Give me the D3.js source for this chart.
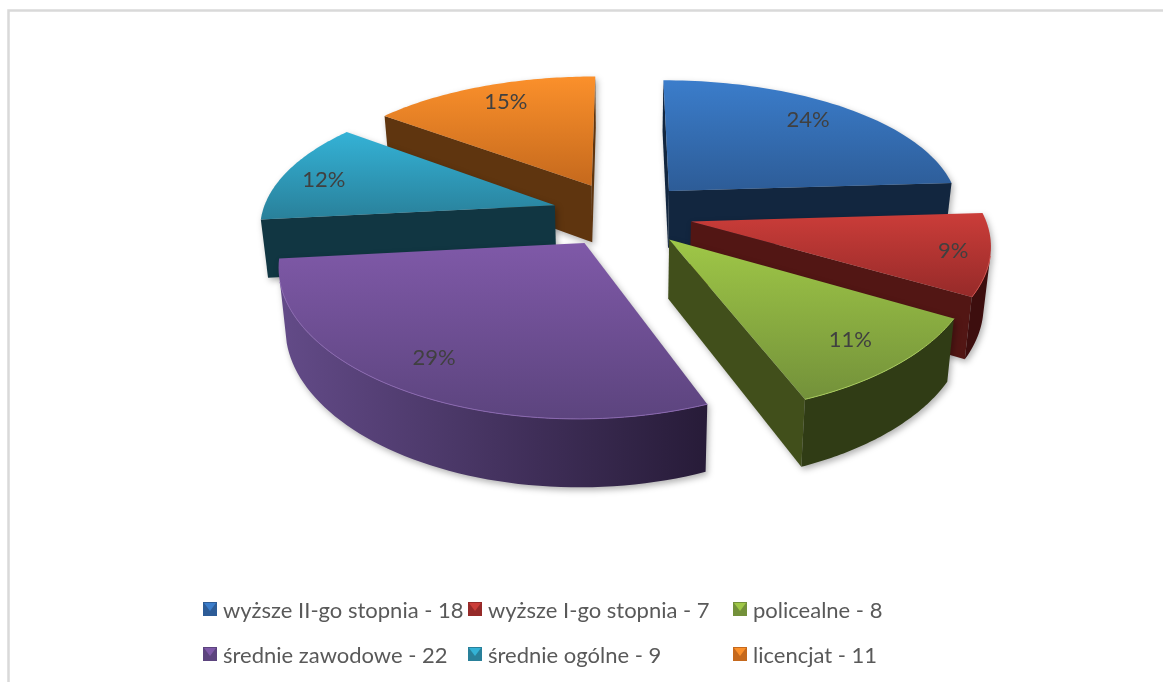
<!DOCTYPE html>
<html>
<head>
<meta charset="utf-8">
<script src="https://cdnjs.cloudflare.com/ajax/libs/d3/7.8.5/d3.min.js"></script>
<style>
  html, body { margin: 0; padding: 0; background: #fff; overflow: hidden; }
  svg { display: block; filter: blur(0.45px); }
  text { font-family: Lato, "Open Sans", sans-serif; }
</style>
</head>
<body>
<div id="app"></div>
<script>
// data
const categories = ['wyższe II-go stopnia', 'wyższe I-go stopnia', 'policealne', 'średnie zawodowe', 'średnie ogólne', 'licencjat'];
const values = [18, 7, 8, 22, 9, 11];
const percentLabels = ['24%', '9%', '11%', '29%', '12%', '15%'];
const topLight = ['#3b7dcb', '#cb3d39', '#9fc747', '#7f59a8', '#34b2d6', '#fb902b'];
const topDark = ['#2d5c97', '#962a29', '#73913a', '#5c447e', '#29809a', '#c5691d'];
const rimColor = ['#4a86cf', '#d4524e', '#a9cc5c', '#8a68b0', '#4cbcdb', '#fb9c44'];
const wallDark = ['#12263f', '#3d0e0e', '#303c15', '#261a36', '#113642', '#552c0c'];
const wallLight = ['#12263f', '#521614', '#414f1b', '#644c8a', '#113642', '#5f350f'];
const drawOrder = [5, 0, 4, 1, 2, 3];

const width = 1163, height = 682;

// perspective of the pie plane
const cx = 622, cy = 214, radX = 293, radY = 136, persp = 0.166, explode = 0.24;
const depth = 58, bottomShrink = 0.98;

const svg = d3.select('#app').append('svg').attr('width', width).attr('height', height);
const defs = svg.append('defs');

// page frame
svg.append('path')
   .attr('d', `M8.5 ${height} V10.5 H${width}`)
   .attr('fill', 'none')
   .attr('stroke', '#d9d9d9')
   .attr('stroke-width', 2.5);

const slices = d3.pie().sort(null)(values);

// plane coordinates of a point at angle a, radius r, inside slice s
function plane(s, a, r) {
  const mid = (s.startAngle + s.endAngle) / 2;
  return {
    u: r * Math.sin(a) + explode * Math.sin(mid),
    v: r * Math.cos(a) + explode * Math.cos(mid)
  };
}

function project(s, a, r, low) {
  const p = plane(s, a, r);
  const w = 1 + persp * p.v;
  const x = cx + radX * p.u / Math.pow(w, 0.85);
  const y = cy - radY * p.v / w;
  if (!low) return [x, y];
  return [cx + (x - cx) * bottomShrink, cy + (y - cy) * bottomShrink + depth / w];
}

// walls are wound the same way, so the sign tells which face the viewer
function isFront(poly) {
  return d3.polygonArea(poly) > 0;
}

const line = d3.line().curve(d3.curveLinearClosed);
const openLine = d3.line();
const pieGroup = svg.append('g');

drawOrder.forEach((i) => {
  const s = slices[i];
  const g = pieGroup.append('g').style('filter', 'drop-shadow(2px 3px 3px rgba(0,0,0,0.3))');

  const angles = d3.range(0, 61).map((k) => s.startAngle + (s.endAngle - s.startAngle) * k / 60);

  // radial walls
  const startWall = [project(s, s.startAngle, 0), project(s, s.startAngle, 1), project(s, s.startAngle, 1, true), project(s, s.startAngle, 0, true)];
  const endWall = [project(s, s.endAngle, 1), project(s, s.endAngle, 0), project(s, s.endAngle, 0, true), project(s, s.endAngle, 1, true)];
  [startWall, endWall].forEach((poly) => {
    if (isFront(poly)) {
      g.append('path').attr('d', line(poly)).attr('fill', wallLight[i]);
    }
  });

  // outer wall, shaded from the left
  const wallColor = d3.scaleLinear().domain([-1, 0.4]).range([wallLight[i], wallDark[i]]).clamp(true);
  const front = angles.filter((a, k) => {
    const b = angles[Math.min(k + 1, 60)];
    const c = k === 60 ? angles[59] : a;
    const d = k === 60 ? a : b;
    return isFront([project(s, c, 1), project(s, d, 1), project(s, d, 1, true), project(s, c, 1, true)]);
  });
  if (front.length > 1) {
    const outer = front.map((a) => project(s, a, 1)).concat(front.slice().reverse().map((a) => project(s, a, 1, true)));
    const xr = d3.extent(outer, (d) => d[0]);
    const wallGrad = defs.append('linearGradient')
      .attr('id', `wall${i}`)
      .attr('gradientUnits', 'userSpaceOnUse')
      .attr('x1', xr[0]).attr('x2', xr[1]).attr('y1', 0).attr('y2', 0);
    const sinRange = d3.extent(front, (a) => Math.sin(a));
    d3.range(0, 6).forEach((k) => {
      wallGrad.append('stop')
        .attr('offset', k / 5)
        .attr('stop-color', wallColor(sinRange[0] + (sinRange[1] - sinRange[0]) * k / 5));
    });
    g.append('path').attr('d', line(outer)).attr('fill', `url(#wall${i})`);
  }

  // top face
  const rim = angles.map((a) => project(s, a, 1));
  const top = [project(s, 0, 0)].concat(rim);
  const yr = d3.extent(top, (d) => d[1]);
  const grad = defs.append('linearGradient')
    .attr('id', `top${i}`)
    .attr('gradientUnits', 'userSpaceOnUse')
    .attr('x1', 0).attr('x2', 0).attr('y1', yr[0]).attr('y2', yr[1]);
  grad.append('stop').attr('offset', 0).attr('stop-color', topLight[i]);
  grad.append('stop').attr('offset', 1).attr('stop-color', topDark[i]);
  g.append('path').attr('d', line(top)).attr('fill', `url(#top${i})`);

  // light edge only where the rim sits over its own wall
  if (front.length > 1) {
    g.append('path').attr('d', openLine(front.map((a) => project(s, a, 1)))).attr('fill', 'none').attr('stroke', rimColor[i]).attr('stroke-width', 1);
  }
});

// percent labels, nudged off the projected mid angle as in the picture
const labelDx = [-5, 5, 1, -6, 0, 4];
const labelDy = [0, 0, 0, 0, 4, 0];
slices.forEach((s, i) => {
  const mid = (s.startAngle + s.endAngle) / 2;
  const r = 0.8 + 0.07 * Math.pow(Math.sin(mid), 4);
  const [x, y] = project(s, mid, r);
  svg.append('text')
     .attr('x', x + labelDx[i]).attr('y', y - 4 * Math.max(0, Math.cos(mid)) + labelDy[i])
     .attr('text-anchor', 'middle')
     .attr('dominant-baseline', 'central')
     .attr('font-size', 22)
     .attr('fill', '#404040')
     .text(percentLabels[i]);
});

// legend
const legendCols = [203, 468, 733];
const legendRows = [609, 654];
categories.forEach((c, i) => {
  const x = legendCols[i % 3];
  const y = legendRows[Math.floor(i / 3)];
  const g = svg.append('g').attr('transform', `translate(${x},${y})`);
  g.append('rect').attr('x', 0).attr('y', -7).attr('width', 14).attr('height', 14).attr('fill', topDark[i]);
  g.append('path').attr('d', 'M1 -6 H13 L7 2 Z').attr('fill', topLight[i]);
  g.append('text')
   .attr('x', 20).attr('y', 0)
   .attr('dominant-baseline', 'central')
   .attr('font-size', 22)
   .attr('fill', '#595959')
   .text(`${c} - ${values[i]}`);
});
</script>
</body>
</html>
